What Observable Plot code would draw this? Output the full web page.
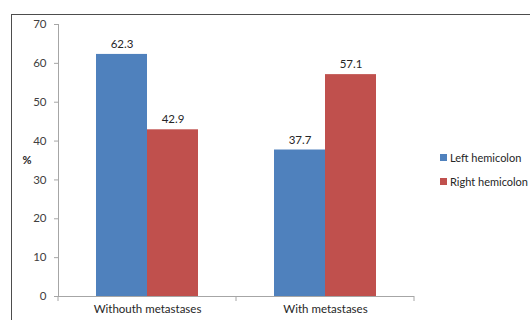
<!DOCTYPE html>
<html>
<head>
<meta charset="utf-8">
<script src="https://cdn.jsdelivr.net/npm/d3@7"></script>
<script src="https://cdn.jsdelivr.net/npm/@observablehq/plot@0.6"></script>
<style>
  html, body { margin: 0; padding: 0; overflow: hidden; background: #fff; }
  #wrap { position: relative; width: 530px; height: 320px; overflow: hidden; font-family: Lato, "Liberation Sans", sans-serif; }
  #border { position: absolute; left: 11px; top: 14px; width: 600px; height: 400px; border: 1px solid #4d4d4d; box-sizing: border-box; }
  #chart { position: absolute; left: 0; top: 0; }
  #legend { position: absolute; left: 440px; top: 145px; font-size: 11px; color: #262626; white-space: nowrap; }
  .item { display: flex; align-items: center; height: 24px; }
  .sw { width: 7px; height: 7px; margin-right: 3px; }
</style>
</head>
<body>
<div id="wrap">
  <div id="border"></div>
  <div id="chart"></div>
  <div id="legend"></div>
</div>
<script>
const categories = ["Withouth metastases", "With metastases"];
const seriesNames = ["Left hemicolon", "Right hemicolon"];
const leftValues = [62.3, 37.7];
const rightValues = [42.9, 57.1];
const yTicks = [0, 10, 20, 30, 40, 50, 60, 70];
const colors = ["#4F81BD", "#C0504D"];

const data = categories.map((c, i) => ({cat: c, left: leftValues[i], right: rightValues[i]}));

const boundaryTicks = (index, scales, values, dimensions) => {
  const g = d3.create("svg:g");
  const x = scales.x;
  const bw = x.bandwidth ? x.bandwidth() : (dimensions.width - dimensions.marginLeft - dimensions.marginRight) / categories.length;
  const y0 = scales.y(0);
  const xs = categories.map(c => x(c));
  xs.push(x(categories[categories.length - 1]) + bw);
  for (const px of xs) {
    g.append("line").attr("x1", px).attr("x2", px).attr("y1", y0).attr("y2", y0 + 5)
      .attr("stroke", "#a6a6a6");
  }
  return g.node();
};

const chart = Plot.plot({
  width: 530,
  height: 320,
  marginLeft: 58,
  marginRight: 116,
  marginTop: 24,
  marginBottom: 24,
  style: {fontFamily: "Lato, 'Liberation Sans', sans-serif", fontSize: "11.5px", color: "#404040", background: "transparent"},
  x: {type: "band", domain: categories, paddingInner: 0, paddingOuter: 0, axis: null, label: null},
  y: {domain: [0, 70], axis: null, label: null},
  marks: [
    Plot.barY(data, {x: "cat", y: "left", fill: colors[0], insetLeft: 38, insetRight: 89}),
    Plot.barY(data, {x: "cat", y: "right", fill: colors[1], insetLeft: 89, insetRight: 38}),
    Plot.frame({anchor: "left", stroke: "#a6a6a6"}),
    Plot.ruleY([0], {stroke: "#a6a6a6"}),
    Plot.axisY({ticks: yTicks, tickSize: 4, tickPadding: 8, stroke: "#a6a6a6", fill: "#404040", fontSize: 11.5, label: null}),
    boundaryTicks,
    Plot.axisX({tickSize: 0, tickPadding: 8, fill: "#262626", fontSize: 11.5, label: null}),
    Plot.text(data, {x: "cat", y: "left", text: d => d.left.toFixed(1), dy: -10, dx: -25.5, fill: "#262626", fontSize: 11.5}),
    Plot.text(data, {x: "cat", y: "right", text: d => d.right.toFixed(1), dy: -10, dx: 25.5, fill: "#262626", fontSize: 11.5}),
    Plot.text(["%"], {frameAnchor: "left", dx: -36, text: d => d, fontWeight: "bold", fill: "#262626", fontSize: 11})
  ]
});
document.getElementById("chart").appendChild(chart);

const legend = document.getElementById("legend");
seriesNames.forEach((name, i) => {
  const item = document.createElement("div");
  item.className = "item";
  const sw = document.createElement("span");
  sw.className = "sw";
  sw.style.background = colors[i];
  const t = document.createElement("span");
  t.textContent = name;
  item.appendChild(sw);
  item.appendChild(t);
  legend.appendChild(item);
});
</script>
</body>
</html>
